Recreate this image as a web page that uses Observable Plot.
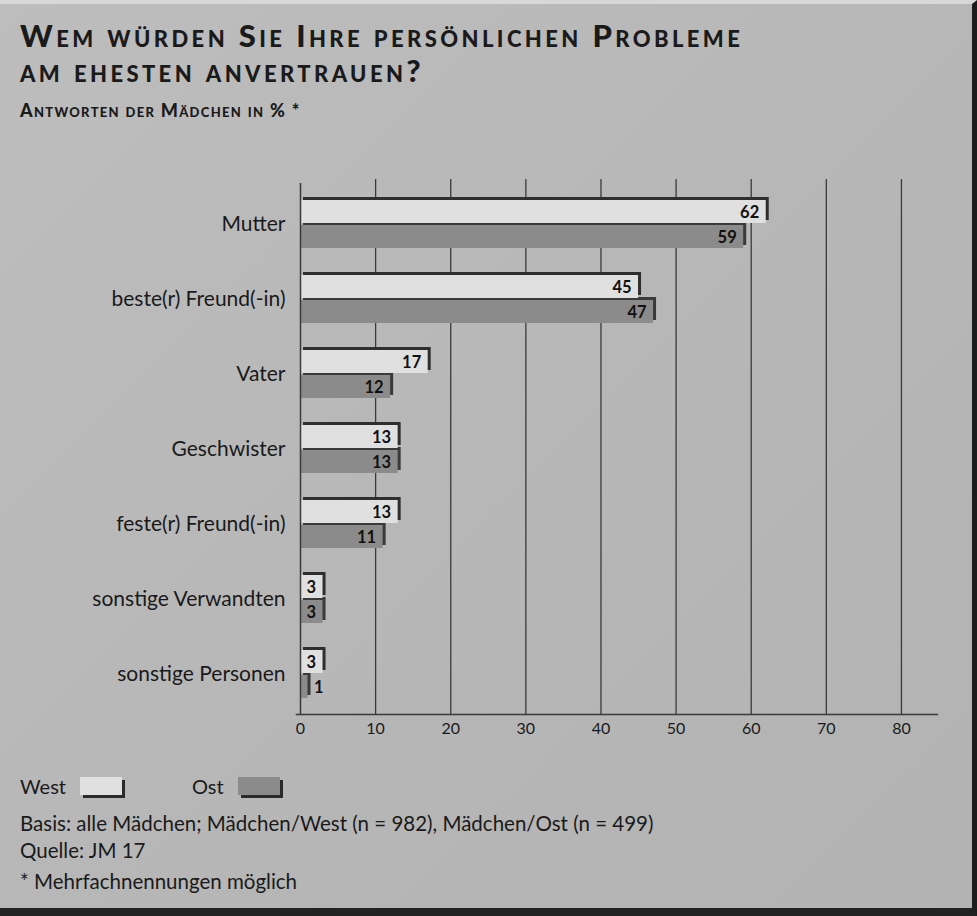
<!DOCTYPE html>
<html>
<head>
<meta charset="utf-8">
<script src="https://cdn.jsdelivr.net/npm/d3@7"></script>
<script src="https://cdn.jsdelivr.net/npm/@observablehq/plot@0.6"></script>
<style>
  html, body { margin: 0; padding: 0; }
  #card {
    position: relative; width: 977px; height: 916px; box-sizing: border-box;
    background: linear-gradient(135deg, #bdbdbd 0%, #b6b6b6 60%, #b3b3b3 100%);
    border-top: 4px solid #d8d8d8; border-right: 5px solid #1c1c1c; border-bottom: 8px solid #222;
    font-family: Lato, "Open Sans", sans-serif; color: #1a1a1a; overflow: hidden;
  }
  #title { position: absolute; left: 20px; top: 14px; font-size: 31px; font-weight: 900; font-variant: small-caps; letter-spacing: 3.4px; line-height: 35px; }
  #subtitle { position: absolute; left: 20px; top: 95px; font-size: 18px; font-weight: 900; font-variant: small-caps; letter-spacing: 1.3px; }
  #chart { position: absolute; left: 0; top: 142px; }
  #legend { position: absolute; left: 20px; top: 770px; font-size: 20px; display: flex; align-items: center; }
  .sw { display: inline-block; width: 42px; height: 18px; margin-left: 14px; margin-right: 70px; box-shadow: 3px 3px 0 #2a2a2a; }
  #notes { position: absolute; left: 20px; top: 806px; font-size: 20.5px; line-height: 27px; }
</style>
</head>
<body>
<div id="card">
  <div id="title">Wem würden Sie Ihre persönlichen Probleme<br>am ehesten anvertrauen?</div>
  <div id="subtitle">Antworten der Mädchen in % *</div>
  <div id="chart"></div>
  <div id="legend">West<span class="sw" style="background:#e0e0e0"></span>Ost<span class="sw" style="background:#8b8b8b"></span></div>
  <div id="notes">Basis: alle Mädchen; Mädchen/West (n = 982), Mädchen/Ost (n = 499)<br>Quelle: JM 17<br><span style="display:inline-block;margin-top:4px">* Mehrfachnennungen möglich</span></div>
</div>
<script>
const categories = ["Mutter", "beste(r) Freund(-in)", "Vater", "Geschwister", "feste(r) Freund(-in)", "sonstige Verwandten", "sonstige Personen"];
const westValues = [62, 45, 17, 13, 13, 3, 3];
const ostValues = [59, 47, 12, 13, 11, 3, 1];
const xTicks = [0, 10, 20, 30, 40, 50, 60, 70, 80];

const rows = categories.map((c, i) => ({cat: c, west: westValues[i], ost: ostValues[i]}));

const westBar = {insetTop: 14, insetBottom: 38};
const ostBar = {insetTop: 39, insetBottom: 13};

const chart = Plot.plot({
  width: 972,
  height: 599,
  marginLeft: 300,
  marginRight: 35,
  marginTop: 37,
  marginBottom: 31,
  style: {background: "transparent", fontFamily: "Lato, 'Open Sans', sans-serif", color: "#1a1a1a"},
  x: {domain: [0, 84.8]},
  y: {domain: categories, padding: 0},
  marks: [
    Plot.ruleX(xTicks.filter(d => d > 0), {stroke: "#3a3a3a", strokeWidth: 1.3, insetTop: -4}),
    Plot.barX(rows, {x: "ost", y: "cat", fill: "#3a3a3a", dx: 3, dy: -3, ...ostBar}),
    Plot.barX(rows, {x: "ost", y: "cat", fill: "#8b8b8b", ...ostBar}),
    Plot.barX(rows, {x: "west", y: "cat", fill: "#2e2e2e", dx: 3, dy: -3, ...westBar}),
    Plot.barX(rows, {x: "west", y: "cat", fill: "#e0e0e0", ...westBar}),
    Plot.ruleX([0], {stroke: "#3a3a3a", strokeWidth: 1.5}),
    Plot.frame({anchor: "bottom", stroke: "#3a3a3a", strokeWidth: 1.5, insetLeft: -4}),
    Plot.text(rows, {x: "west", y: "cat", text: d => String(d.west), dx: -7, dy: -11, textAnchor: "end", fontSize: 16.5, fontWeight: 700, fill: "#111"}),
    Plot.text(rows.filter(d => d.ost >= 2), {x: "ost", y: "cat", text: d => String(d.ost), dx: -7, dy: 14, textAnchor: "end", fontSize: 16.5, fontWeight: 700, fill: "#111"}),
    Plot.text(rows.filter(d => d.ost < 2), {x: "ost", y: "cat", text: d => String(d.ost), dx: 6, dy: 14, textAnchor: "start", fontSize: 16.5, fontWeight: 700, fill: "#111"}),
    Plot.axisY({tickSize: 0, tickPadding: 15, fontSize: 21, label: null}),
    Plot.axisX({ticks: xTicks, tickSize: 0, tickPadding: 8, fontSize: 16, label: null, tickFormat: d => String(d)})
  ]
});
document.getElementById("chart").appendChild(chart);
</script>
</body>
</html>
